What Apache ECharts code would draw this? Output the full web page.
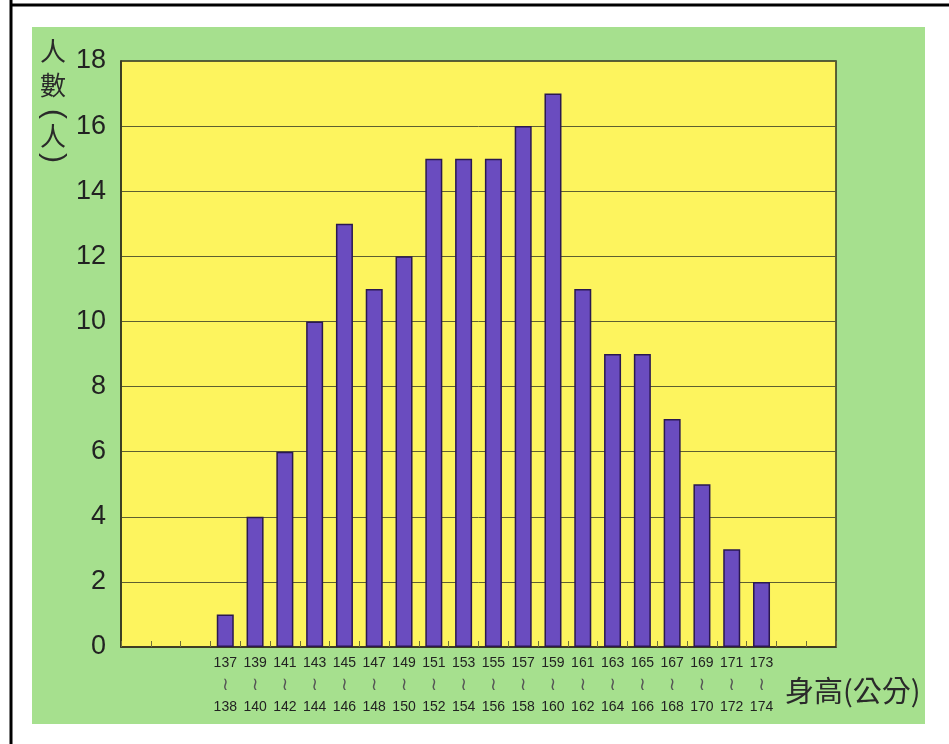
<!DOCTYPE html>
<html>
<head>
<meta charset="utf-8">
<script src="https://cdn.jsdelivr.net/npm/echarts@6/dist/echarts.min.js"></script>
<style>html,body{margin:0;padding:0;background:#fff;}#c{width:949px;height:744px;}</style>
</head>
<body>
<div id="c"></div>
<script>
// Height ranges (cm) and counts (persons)
var rangeStarts = [137,139,141,143,145,147,149,151,153,155,157,159,161,163,165,167,169,171,173];
var rangeEnds   = [138,140,142,144,146,148,150,152,154,156,158,160,162,164,166,168,170,172,174];
var counts      = [1,4,6,10,13,11,12,15,15,15,16,17,11,9,9,7,5,3,2];
var leadingEmpty = 3;
var trailingEmpty = 2;
var yTicks = [0,2,4,6,8,10,12,14,16,18];
var yNameChars = ['人', '數', '(', '人', ')'];
var xName = '身高(公分)';

var categories = [], values = [];
for (var i = 0; i < leadingEmpty; i++) { categories.push(''); values.push(null); }
for (var j = 0; j < rangeStarts.length; j++) { categories.push(rangeStarts[j] + '~' + rangeEnds[j]); values.push(counts[j]); }
for (var k = 0; k < trailingEmpty; k++) { categories.push(''); values.push(null); }

var font = '"Noto Sans CJK TC"';
var yNameY = [51, 85, 114, 136, 158];
var graphics = [
  { type: 'rect', z: -10, shape: { x: 32, y: 27, width: 893, height: 697 }, style: { fill: '#a6e08e' } },
  { type: 'line', z: -5, shape: { x1: 11, y1: 0, x2: 11, y2: 744 }, style: { stroke: '#000', lineWidth: 3 } },
  { type: 'line', z: -5, shape: { x1: 10, y1: 5, x2: 949, y2: 5 }, style: { stroke: '#000', lineWidth: 3 } },
  { type: 'text', x: 785, y: 691, style: { text: xName, font: '29px ' + font, fill: '#2a2a2a', verticalAlign: 'middle' } }
];
yNameChars.forEach(function (ch, idx) {
  var isParen = (ch === '(' || ch === ')');
  graphics.push({
    type: 'text', x: 53, y: yNameY[idx],
    rotation: isParen ? -Math.PI / 2 : 0,
    style: { text: ch, font: (isParen ? '30px "Liberation Sans"' : '26px ' + font), fill: '#2a2a2a', align: 'center', verticalAlign: 'middle' }
  });
});

var chart = echarts.init(document.getElementById('c'));
chart.setOption({
  backgroundColor: '#ffffff',
  animation: false,
  graphic: graphics,
  grid: {
    left: 121, top: 61, right: 113, bottom: 97,
    show: true, backgroundColor: '#fdf45e', borderColor: '#333320', borderWidth: 1.5
  },
  xAxis: {
    type: 'category',
    data: categories,
    axisLine: { show: true, lineStyle: { color: '#333320', width: 1.5 } },
    axisTick: { show: true, inside: true, length: 6, lineStyle: { color: '#6e6e3a' } },
    axisLabel: {
      interval: 0, margin: 5,
      formatter: function (v) {
        if (!v) return '';
        var p = v.split('~');
        return '{a|' + p[0] + '}\n{b|≀}\n{a|' + p[1] + '}';
      },
      rich: {
        a: { fontSize: 14, fontFamily: 'Liberation Sans', color: '#222', lineHeight: 22 },
        b: { fontSize: 18, fontFamily: 'DejaVu Sans', color: '#555', lineHeight: 22 }
      }
    }
  },
  yAxis: {
    type: 'value',
    min: yTicks[0], max: yTicks[yTicks.length - 1], interval: 2,
    axisLine: { show: true, lineStyle: { color: '#333320', width: 1.5 } },
    axisTick: { show: false },
    splitLine: { show: true, lineStyle: { color: '#5e5e30', width: 1 } },
    axisLabel: { fontSize: 27, fontFamily: 'Liberation Sans', color: '#222', margin: 15 }
  },
  series: [{
    type: 'bar',
    data: values,
    barWidth: 17,
    itemStyle: { color: '#6a4cbf', borderColor: '#2a1850', borderWidth: 1.5 }
  }]
});
</script>
</body>
</html>
